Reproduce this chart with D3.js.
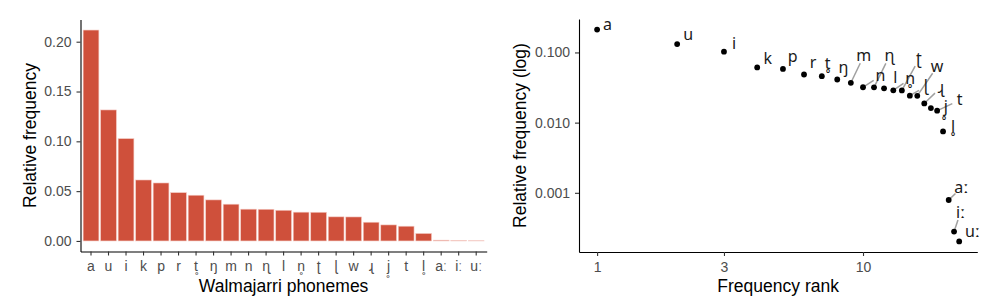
<!DOCTYPE html>
<html>
<head>
<meta charset="utf-8">
<script src="https://cdn.jsdelivr.net/npm/d3@7"></script>
<style>
  body { margin: 0; background: #fff; }
  svg { display: block; }
</style>
</head>
<body>
<script>
// phonemes in frequency order (same order for bars and ranks)
const phonemes = ["a", "u", "i", "k", "p", "r", "t\u0325", "\u014b", "m", "n", "\u0273", "l",
                  "n\u0325", "\u0288", "\u026d", "w", "\u027b", "j\u0325", "t", "l\u0325",
                  "a\u02d0", "i\u02d0", "u\u02d0"];
const relFreq = [0.2117, 0.1315, 0.1027, 0.0612, 0.0582, 0.0485, 0.0459, 0.0412, 0.0369,
                 0.0319, 0.0318, 0.0308, 0.0289, 0.0288, 0.0242, 0.0241, 0.0188, 0.0161,
                 0.0148, 0.0075, 0.00079, 0.00028, 0.000203];
const ranks = phonemes.map((p, i) => i + 1);
const linTicks = [0, 0.05, 0.10, 0.15, 0.20];
const logTicks = [0.001, 0.01, 0.1];
const rankTicks = [1, 3, 10];

const W = 981, H = 302;
const tickFont = "'Liberation Sans', Arial, sans-serif";

const svg = d3.select("body").append("svg")
  .attr("width", W)
  .attr("height", H);

function styleAxis(g) {
  g.select(".domain").attr("stroke", "#000").attr("stroke-width", 1.1);
  g.selectAll(".tick line").attr("stroke", "#333").attr("stroke-width", 1.1);
  g.selectAll(".tick text")
    .attr("fill", "#4d4d4d")
    .style("font-family", tickFont)
    .style("font-size", "14px");
}

function axisTitle(x, y, rot, label) {
  svg.append("text")
    .attr("transform", `translate(${x},${y})` + (rot ? " rotate(-90)" : ""))
    .attr("text-anchor", "middle")
    .style("font-family", tickFont)
    .style("font-size", "17.5px")
    .text(label);
}

// ---------- left: bar chart ----------
const L = {left: 80.5, right: 486.7, top: 19.5, bottom: 251.5};
const maxF = d3.max(relFreq);

const xBand = d3.scaleBand()
  .domain(phonemes)
  .range([L.left, L.right])
  .paddingInner(0.1)
  .paddingOuter(0.15);

const yLin = d3.scaleLinear()
  .domain([-0.05 * maxF, 1.05 * maxF])
  .range([L.bottom, L.top]);

svg.append("g")
  .selectAll("rect")
  .data(phonemes)
  .enter()
  .append("rect")
    .attr("x", d => xBand(d))
    .attr("y", (d, i) => yLin(relFreq[i]))
    .attr("width", xBand.bandwidth())
    .attr("height", (d, i) => yLin(0) - yLin(relFreq[i]))
    .attr("fill", "#cf503b")
    .attr("stroke", "#f4cbc4")
    .attr("stroke-width", 0.6);

const gxL = svg.append("g")
  .attr("transform", `translate(0,${L.bottom})`)
  .call(d3.axisBottom(xBand).tickSize(4).tickSizeOuter(0).tickPadding(6));
styleAxis(gxL);

const gyL = svg.append("g")
  .attr("transform", `translate(${L.left},0)`)
  .call(d3.axisLeft(yLin).tickValues(linTicks).tickFormat(d3.format(".2f"))
    .tickSize(4).tickSizeOuter(0).tickPadding(5));
styleAxis(gyL);

axisTitle((L.left + L.right) / 2, 292, false, "Walmajarri phonemes");
axisTitle(36, (L.top + L.bottom) / 2, true, "Relative frequency");

// ---------- right: rank / log frequency ----------
const R = {left: 579, right: 977.3, top: 19, bottom: 252};
const lx = d3.extent(ranks).map(Math.log10);
const ly = d3.extent(relFreq).map(Math.log10);
const ex = (lx[1] - lx[0]) * 0.05, ey = (ly[1] - ly[0]) * 0.05;

const xLog = d3.scaleLog()
  .domain([Math.pow(10, lx[0] - ex), Math.pow(10, lx[1] + ex)])
  .range([R.left, R.right]);
const yLog = d3.scaleLog()
  .domain([Math.pow(10, ly[0] - ey), Math.pow(10, ly[1] + ey)])
  .range([R.bottom, R.top]);

const gxR = svg.append("g")
  .attr("transform", `translate(0,${R.bottom})`)
  .call(d3.axisBottom(xLog).tickValues(rankTicks).tickFormat(d3.format("d"))
    .tickSize(4).tickSizeOuter(0).tickPadding(6));
styleAxis(gxR);

const gyR = svg.append("g")
  .attr("transform", `translate(${R.left},0)`)
  .call(d3.axisLeft(yLog).tickValues(logTicks).tickFormat(d3.format(".3f"))
    .tickSize(4).tickSizeOuter(0).tickPadding(5));
styleAxis(gyR);

axisTitle((R.left + R.right) / 2, 292, false, "Frequency rank");
axisTitle(526, (R.top + R.bottom) / 2, true, "Relative frequency (log)");

// points
const pts = phonemes.map((p, i) => ({
  label: p,
  ax: xLog(ranks[i]),
  ay: yLog(relFreq[i])
}));

// labels, repelled from each other and from the points (a la ggrepel)
const labelFont = "'Noto Sans', 'DejaVu Sans', sans-serif";
const lblG = svg.append("g");
const segG = lblG.append("g");
const txt = lblG.selectAll("text")
  .data(pts)
  .enter()
  .append("text")
    .style("font-family", labelFont)
    .style("font-size", "16px")
    .attr("fill", "#1a1a1a")
    .attr("text-anchor", "middle")
    .text(d => d.label);

txt.each(function(d) {
  const bb = this.getBBox();
  d.w = bb.width + 8;
  d.h = 20;
  d.x = d.ax + 10;
  d.y = d.ay - 8;
});

// points push labels away, leaning up and to the right (away from the curve)
const lean = [0.55, -0.85];

function repel() {
  let nodes;
  function force(alpha) {
    const n = nodes.length;
    for (let i = 0; i < n; i++) {
      const a = nodes[i];
      // label vs label
      for (let j = i + 1; j < n; j++) {
        const b = nodes[j];
        const ox = (a.w + b.w) / 2 - Math.abs(a.x - b.x);
        const oy = (a.h + b.h) / 2 - Math.abs(a.y - b.y);
        if (ox > 0 && oy > 0) {
          let dx = a.x - b.x, dy = a.y - b.y;
          const len = Math.hypot(dx, dy) || 1;
          const k = Math.min(ox, oy) * alpha * 2;
          dx /= len; dy /= len;
          a.vx += dx * k; a.vy += dy * k;
          b.vx -= dx * k; b.vy -= dy * k;
        }
      }
      // label vs every point
      for (let j = 0; j < n; j++) {
        const p = nodes[j];
        const ox = a.w / 2 + 2 - Math.abs(a.x - p.ax);
        const oy = a.h / 2 + 2 - Math.abs(a.y - p.ay);
        if (ox > 0 && oy > 0) {
          let dx = a.x - p.ax, dy = a.y - p.ay;
          const len = Math.hypot(dx, dy) || 1;
          dx = dx / len + lean[0];
          dy = dy / len + lean[1];
          const len2 = Math.hypot(dx, dy) || 1;
          const k = Math.min(ox, oy) * alpha * 2;
          a.vx += dx / len2 * k; a.vy += dy / len2 * k;
        }
      }
    }
  }
  force.initialize = _ => { nodes = _; };
  return force;
}

const sim = d3.forceSimulation(pts)
  .force("x", d3.forceX(d => d.ax + 10).strength(0.025))
  .force("y", d3.forceY(d => d.ay - 8).strength(0.025))
  .force("repel", repel())
  .stop();

for (let t = 0; t < 500; t++) {
  sim.tick();
  pts.forEach(d => {
    d.x = Math.max(R.left + d.w / 2, Math.min(W - d.w / 2 + 3, d.x));
    d.y = Math.max(R.top + 6, Math.min(R.bottom - 8, d.y));
  });
}

txt.attr("x", d => d.x).attr("y", d => d.y + 5);

// segments from point toward label when the label has drifted away
pts.forEach(d => {
  const dx = d.x - d.ax, dy = d.y - d.ay;
  const dist = Math.hypot(dx, dy);
  if (dist > 17) {
    const ux = dx / dist, uy = dy / dist;
    segG.append("line")
      .attr("x1", d.ax + ux * 2)
      .attr("y1", d.ay + uy * 2)
      .attr("x2", d.x - ux * 8)
      .attr("y2", d.y - uy * 8)
      .attr("stroke", "#a0a0a0")
      .attr("stroke-width", 1.5);
  }
});

svg.append("g")
  .selectAll("circle")
  .data(pts)
  .enter()
  .append("circle")
    .attr("cx", d => d.ax)
    .attr("cy", d => d.ay)
    .attr("r", 2.9)
    .attr("fill", "#000");
</script>
</body>
</html>
